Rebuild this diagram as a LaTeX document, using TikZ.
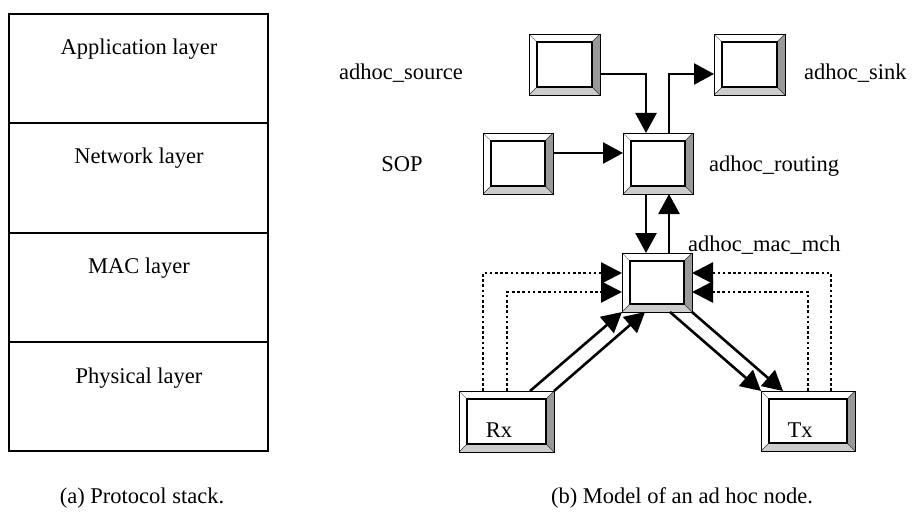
\documentclass[tikz,border=0pt]{standalone}
\usepackage{fontspec}
\setmainfont{Liberation Serif}
\usetikzlibrary{arrows.meta}
\def\pp{path picture bounding box}
\begin{document}
\begin{tikzpicture}[x=1pt,y=-1pt,
  txt/.style={font=\fontsize{22.5}{27}\selectfont, anchor=base, inner sep=0pt},
  wtxt/.style={txt, anchor=base west},
  bevelbox/.style={draw=black, line width=0.9pt, fill=white, inner sep=0pt, outer sep=0pt,
    path picture={
      % right bevel (dark)
      \fill[black!40] (\pp.north east) -- ([shift={(-8pt,-8pt)}]\pp.north east)
        -- ([shift={(-8pt,8pt)}]\pp.south east) -- (\pp.south east) -- cycle;
      % bottom bevel (light)
      \fill[black!20] (\pp.south west) -- ([shift={(8pt,8pt)}]\pp.south west)
        -- ([shift={(-8pt,8pt)}]\pp.south east) -- (\pp.south east) -- cycle;
      % corner mitres
      \draw[line width=0.5pt, black!50] (\pp.north west) -- ++(8pt,-8pt);
      \draw[line width=0.6pt, black!80] (\pp.north east) -- ++(-8pt,-8pt);
      \draw[line width=0.6pt, black!80] (\pp.south west) -- ++(8pt,8pt);
      \draw[line width=0.6pt, black!80] (\pp.south east) -- ++(-8pt,8pt);
      % inner face
      \draw[line width=2.2pt] ([shift={(8pt,8pt)}]\pp.south west) rectangle ([shift={(-8pt,-8pt)}]\pp.north east);
    }},
  arr/.style={line width=2.6pt, -{Triangle[length=20pt,width=21pt]}},
  dotarr/.style={line width=2.6pt, dash pattern=on 2.6pt off 2.6pt, -{Triangle[length=21pt,width=21pt]}},
]
\useasboundingbox (0,0) rectangle (915,524);

% ---- protocol stack ----
\draw[line width=1.4pt] (9,14) rectangle (268,451);
\draw[line width=1.4pt] (9,123) -- (268,123);
\draw[line width=1.4pt] (9,233) -- (268,233);
\draw[line width=1.4pt] (9,342) -- (268,342);
\node[txt] (lapp) at (139,55) {Application layer};
\node[txt] (lnet) at (139,164) {Network layer};
\node[txt] (lmac) at (139,273) {MAC layer};
\node[txt] (lphy) at (139,383) {Physical layer};
\node[txt] (capa) at (142,503) {(a) Protocol stack.};

% ---- ad hoc node model ----
\node[bevelbox, minimum width=71pt, minimum height=61pt] (src)  at (564.5,64.5) {};
\node[bevelbox, minimum width=71pt, minimum height=61pt] (sink) at (749.5,64.5) {};
\node[bevelbox, minimum width=70pt, minimum height=61pt] (sop)  at (518,163.5) {};
\node[bevelbox, minimum width=70pt, minimum height=61pt] (rout) at (658,163.5) {};
\node[bevelbox, minimum width=70pt, minimum height=59pt] (mac)  at (657,282.5) {};
\node[bevelbox, minimum width=95pt, minimum height=61pt] (rx)   at (506.5,421.5) {};
\node[bevelbox, minimum width=94pt, minimum height=60pt] (tx)   at (808,421) {};
\node[txt] (rxl) at (499,437) {Rx};
\node[txt] (txl) at (800,437) {Tx};

\node[txt]  (lsrc)  at (401,80)  {adhoc\_source};
\node[wtxt] (lsink) at (804,80)  {adhoc\_sink};
\node[txt]  (lsop)  at (402,171) {SOP};
\node[wtxt] (lrout) at (709,171) {adhoc\_routing};
\node[wtxt] (lmacm) at (688,251) {adhoc\_mac\_mch};
\node[txt]  (capb)  at (682,503) {(b) Model of an ad hoc node.};

% solid connectors
\draw[arr] ([yshift=-9.5pt]src.east) -| ([xshift=-12pt]rout.north);
\draw[arr] ([xshift=11pt]rout.north) |- ([yshift=-9.5pt]sink.west);
\draw[arr] ([yshift=10.5pt]sop.east) -- ([yshift=10.5pt]rout.west);
\draw[arr] ([xshift=-12pt]rout.south) -- ([xshift=-11pt]mac.north);
\draw[arr] ([xshift=12pt]mac.north) -- ([xshift=11pt]rout.south);

% dotted feedback paths into the MAC
\draw[dotarr] ([xshift=-23.5pt]rx.north) |- ([yshift=9.5pt]mac.west);
\draw[dotarr] ([xshift=0.5pt]rx.north) |- ([yshift=-9.5pt]mac.west);
\draw[dotarr] ([xshift=23pt]tx.north) |- ([yshift=9.5pt]mac.east);
\draw[dotarr] (tx.north) |- ([yshift=-9.5pt]mac.east);

% diagonal data paths
\draw[arr] ([xshift=23.5pt]rx.north) -- (mac.south west);
\draw[arr] (rx.north east) -- ([xshift=-12pt]mac.south);
\draw[arr] ([xshift=13pt]mac.south) -- (tx.north west);
\draw[arr] (mac.south east) -- ([xshift=-25pt]tx.north);
\end{tikzpicture}
\end{document}
